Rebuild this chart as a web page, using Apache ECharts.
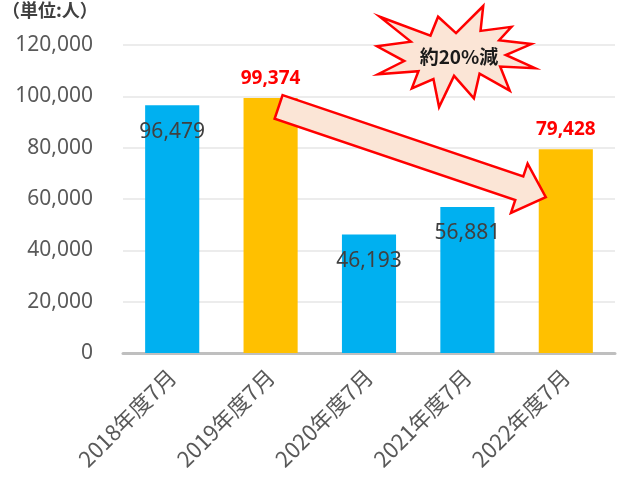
<!DOCTYPE html>
<html>
<head>
<meta charset="utf-8">
<script src="https://cdn.jsdelivr.net/npm/echarts@6/dist/echarts.min.js"></script>
<style>
  html, body { margin: 0; padding: 0; background: #fff; }
  #chart { width: 618px; height: 488px; }
</style>
</head>
<body>
<div id="chart"></div>
<script>
// 観光客数（単位：人）
const categories = ['2018年度7月', '2019年度7月', '2020年度7月', '2021年度7月', '2022年度7月']
const visitors = [96479, 99374, 46193, 56881, 79428]
const highlighted = [false, true, false, false, true]
const yTicks = [0, 20000, 40000, 60000, 80000, 100000, 120000]
const badgeText = '約20%減'

const BLUE = '#00B0F0'
const GOLD = '#FFC000'
const PEACH = '#FBE5D6'
const RED = '#FF0000'

const chart = echarts.init(document.getElementById('chart'), null, { renderer: 'canvas' })

const fmt = v => v.toLocaleString('en-US')

const barData = visitors.map((v, i) => {
  if (highlighted[i]) {
    return {
      value: v,
      itemStyle: { color: GOLD },
      label: {
        position: 'top',
        distance: 10,
        color: RED,
        fontWeight: 'bold',
        fontSize: 19
      }
    }
  }
  return { value: v, itemStyle: { color: BLUE } }
})

// Excel の「爆発1」図形
const sealPts = [
  [10800, 5800], [14522, 0], [14155, 5325], [18380, 4457], [16702, 7315],
  [21097, 8137], [17607, 10475], [21600, 13290], [16837, 12942], [18145, 18095],
  [14020, 14457], [13247, 19737], [10532, 14935], [8485, 21600], [7715, 15627],
  [4762, 17617], [5667, 13937], [135, 14587], [3722, 11775], [0, 8615],
  [4627, 7617], [370, 2295], [7312, 6320], [8352, 2295]
]
function sealPoints (x, y, w, h) {
  return sealPts.map(p => [x + p[0] / 21600 * w, y + p[1] / 21600 * h])
}

function arrowPoints (s, e, half, headHalf, headLen) {
  const dx = e[0] - s[0]
  const dy = e[1] - s[1]
  const len = Math.sqrt(dx * dx + dy * dy)
  const ux = dx / len, uy = dy / len
  const nx = -uy, ny = ux
  const b = len - headLen
  const p = (a, n) => [s[0] + ux * a + nx * n, s[1] + uy * a + ny * n]
  return [p(0, -half), p(b, -half), p(b, -headHalf), p(len, 0), p(b, headHalf), p(b, half), p(0, half)]
}

const titleText = {
  type: 'text',
  left: 2,
  top: 1,
  style: {
    text: '（単位:人）',
    fontSize: 18,
    fontWeight: 'bold',
    fill: '#404040',
    fontFamily: '"Noto Sans CJK JP", sans-serif'
  }
}

const option = {
  animation: false,
  textStyle: { fontFamily: '"Noto Sans", "Noto Sans CJK JP", sans-serif' },
  grid: { left: 123, right: 3, top: 45, bottom: 135 },
  xAxis: {
    type: 'category',
    data: categories,
    axisLine: { lineStyle: { color: '#BFBFBF', width: 3 } },
    axisTick: { show: false },
    axisLabel: {
      rotate: 45,
      margin: 20,
      fontSize: 22,
      color: '#595959',
      fontFamily: '"Noto Sans CJK JP", sans-serif'
    }
  },
  yAxis: {
    type: 'value',
    min: 0,
    max: yTicks[yTicks.length - 1],
    interval: yTicks[1] - yTicks[0],
    axisLine: { show: false },
    axisTick: { show: false },
    splitLine: { lineStyle: { color: '#E6E6E6', width: 1.5 } },
    axisLabel: {
      margin: 30,
      fontSize: 21,
      color: '#595959',
      formatter: v => fmt(v)
    }
  },
  series: [{
    type: 'bar',
    barWidth: '55%',
    data: barData,
    label: {
      show: true,
      position: 'insideTop',
      distance: 16,
      fontSize: 21,
      color: '#404040',
      formatter: p => fmt(p.value)
    }
  }],
  graphic: [titleText]
}

chart.setOption(option)

// 矢印：2019年度の棒から2022年度の棒へ
const from = chart.convertToPixel({ seriesIndex: 0 }, [1, visitors[1]])
const to = chart.convertToPixel({ seriesIndex: 0 }, [4, visitors[4]])
const start = [from[0] + 8, from[1] + 9]
const end = [to[0] - 20, to[1] + 48]

chart.setOption({
  graphic: [titleText, {
    type: 'polygon',
    z: 100,
    shape: { points: arrowPoints(start, end, 12.5, 26, 28) },
    style: { fill: PEACH, stroke: RED, lineWidth: 2.5, lineJoin: 'miter' }
  }, {
    type: 'polygon',
    z: 100,
    shape: { points: sealPoints(377, 6, 158, 101) },
    style: { fill: PEACH, stroke: RED, lineWidth: 2.5, lineJoin: 'miter' }
  }, {
    type: 'text',
    z: 101,
    x: 459,
    y: 57,
    style: {
      text: badgeText,
      align: 'center',
      verticalAlign: 'middle',
      fontSize: 19,
      fontWeight: 'bold',
      fill: '#1a1a1a',
      fontFamily: '"Noto Sans CJK JP", sans-serif'
    }
  }]
})
</script>
</body>
</html>
